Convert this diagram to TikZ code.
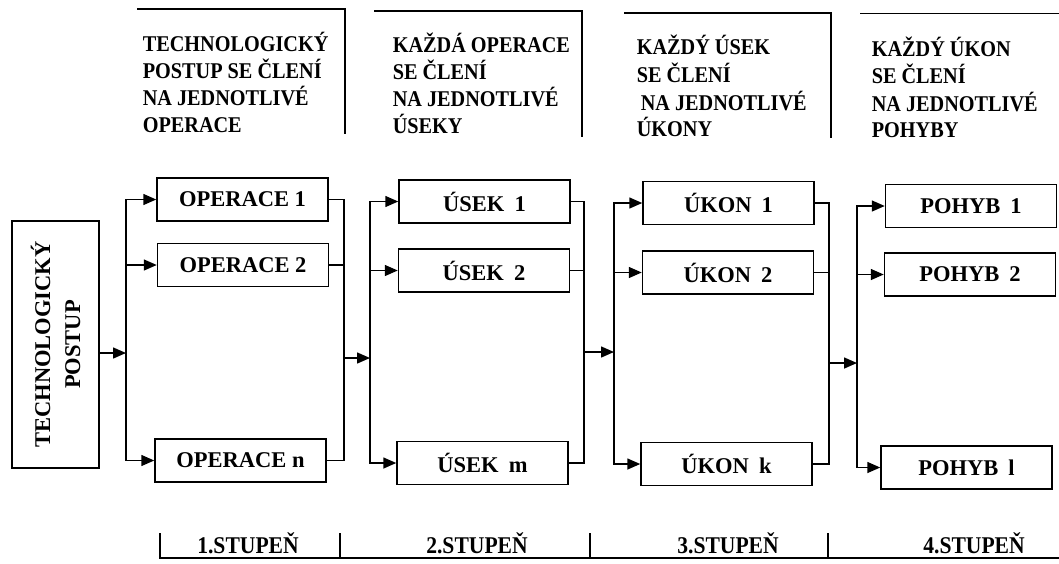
\documentclass[tikz,border=0pt]{standalone}
\usepackage{fontspec}
\setmainfont{Liberation Serif}
\newfontfamily\condfont{Liberation Serif}[FakeStretch=0.9]
\usetikzlibrary{arrows.meta}
\begin{document}
\begin{tikzpicture}[x=1pt,y=-1pt,line width=1.5pt,
  box/.style={draw, minimum width=171pt, minimum height=43pt, inner sep=0pt,
    font=\fontsize{22.5}{26}\selectfont\bfseries},
  arr/.style={-{Triangle[length=13pt,width=11pt]}},
  hd/.style={anchor=base west, inner sep=0pt,
    font=\condfont\fontsize{22.5}{27}\selectfont\bfseries},
  st/.style={anchor=base, inner sep=0pt,
    font=\condfont\fontsize{24}{28}\selectfont\bfseries}]
\useasboundingbox (0,0) rectangle (1059,563);

% header brackets
\draw (137,9) -- (345,9) -- (345,134);
\draw (374,11) -- (582,11) -- (582,137);
\draw (624,13) -- (831,13) -- (831,138);
\draw (860,13.5) -- (1059,13.5);

% header texts
\node[hd] (h11) at (142,51) {TECHNOLOGICKÝ};
\node[hd] (h12) at (142,78) {POSTUP SE ČLENÍ};
\node[hd] (h13) at (142,105) {NA JEDNOTLIVÉ};
\node[hd] (h14) at (142,132) {OPERACE};
\node[hd] (h21) at (392,52) {KAŽDÁ OPERACE};
\node[hd] (h22) at (392,79) {SE ČLENÍ};
\node[hd] (h23) at (392,106) {NA JEDNOTLIVÉ};
\node[hd] (h24) at (392,133) {ÚSEKY};
\node[hd] (h31) at (636,54) {KAŽDÝ ÚSEK};
\node[hd] (h32) at (636,82) {SE ČLENÍ};
\node[hd] (h33) at (640,110) {NA JEDNOTLIVÉ};
\node[hd] (h34) at (636,136) {ÚKONY};
\node[hd] (h41) at (871,56) {KAŽDÝ ÚKON};
\node[hd] (h42) at (871,83) {SE ČLENÍ};
\node[hd] (h43) at (871,111) {NA JEDNOTLIVÉ};
\node[hd] (h44) at (871,137) {POHYBY};

% main box
\node[draw, rotate=90, minimum width=247pt, minimum height=87pt, inner sep=0pt,
  align=center, font=\fontsize{22.5}{30}\selectfont\bfseries] (tp) at (55.5,344.5)
  {TECHNOLOGICKÝ\\POSTUP};

% boxes
\node[box] (op1) at (242.5,199.5) {OPERACE 1};
\node[box] (op2) at (243,265) {OPERACE 2};
\node[box] (opn) at (240.5,460.5) {OPERACE n};
\node[box] (us1) at (484.5,201.5) {ÚSEK\hspace{0.45em}1};
\node[box] (us2) at (484,270.5) {ÚSEK\hspace{0.45em}2};
\node[box] (usm) at (482.5,463) {ÚSEK\hspace{0.45em}m};
\node[box] (uk1) at (728.5,203) {ÚKON\hspace{0.45em}1};
\node[box] (uk2) at (728,272.5) {ÚKON\hspace{0.45em}2};
\node[box] (ukk) at (726.5,464) {ÚKON\hspace{0.45em}k};
\node[box] (po1) at (971,206) {POHYB\hspace{0.45em}1};
\node[box] (po2) at (970,274.5) {POHYB\hspace{0.45em}2};
\node[box] (pol) at (966.5,467.5) {POHYB\hspace{0.45em}l};

% stage 1 distribution
\coordinate (n1) at (126,353);
\draw[arr] (n1 -| tp.south) -- (n1);
\draw[arr] (n1) |- (op1.west);
\draw[arr] (n1) |- (opn.west);
\draw[arr] (n1 |- op2.west) -- (op2.west);
% collect 1
\coordinate (m1) at (344,358);
\coordinate (n2) at (370,358);
\draw (op1.east) -| (m1) |- (opn.east);
\draw (op2.east) -- (op2.east -| m1);
\draw[arr] (m1) -- (n2);
\draw[arr] (n2) |- (us1.west);
\draw[arr] (n2) |- (usm.west);
\draw[arr] (n2 |- us2.west) -- (us2.west);
% collect 2
\coordinate (m2) at (584,352);
\coordinate (n3) at (614,352);
\draw (us1.east) -| (m2) |- (usm.east);
\draw (us2.east) -- (us2.east -| m2);
\draw[arr] (m2) -- (n3);
\draw[arr] (n3) |- (uk1.west);
\draw[arr] (n3) |- (ukk.west);
\draw[arr] (n3 |- uk2.west) -- (uk2.west);
% collect 3
\coordinate (m3) at (829,363);
\coordinate (n4) at (857,363);
\draw (uk1.east) -| (m3) |- (ukk.east);
\draw (uk2.east) -- (uk2.east -| m3);
\draw[arr] (m3) -- (n4);
\draw[arr] (n4) |- (po1.west);
\draw[arr] (n4) |- (pol.west);
\draw[arr] (n4 |- po2.west) -- (po2.west);

% bottom stage scale
\draw (160,533) -- (160,558) -- (1059,558);
\draw (340,533) -- (340,558);
\draw (590,533) -- (590,558);
\draw (828,533) -- (828,558);
\node[st] (s1) at (248,553) {1.STUPEŇ};
\node[st] (s2) at (477,553) {2.STUPEŇ};
\node[st] (s3) at (728,553) {3.STUPEŇ};
\node[st] (s4) at (974,553) {4.STUPEŇ};
\end{tikzpicture}
\end{document}
